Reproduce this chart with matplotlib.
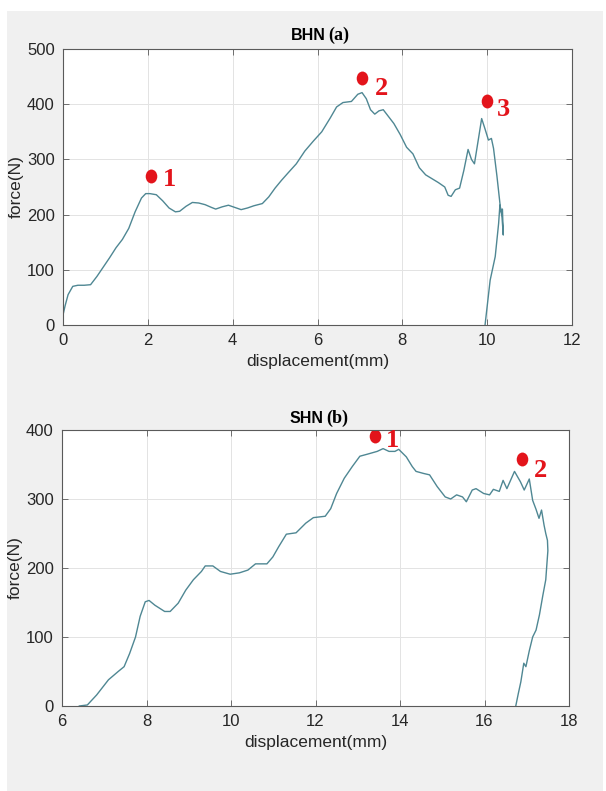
import numpy as np
import matplotlib
matplotlib.use("Agg")
import matplotlib.pyplot as plt
from matplotlib.path import Path
from matplotlib.patches import Rectangle

# --- Daten ---
# (a) BHN
disp_a = [0, 0.05, 0.12, 0.23, 0.35, 0.5, 0.65, 0.8, 0.95, 1.1,
          1.25, 1.4, 1.55, 1.7, 1.85, 1.95, 2.05, 2.2, 2.35, 2.5,
          2.65, 2.75, 2.9, 3.05, 3.2, 3.35, 3.5, 3.6, 3.75, 3.9,
          4.05, 4.2, 4.35, 4.5, 4.7, 4.85, 5.0, 5.15, 5.3, 5.5,
          5.7, 5.9, 6.1, 6.3, 6.45, 6.6, 6.8, 6.95, 7.05, 7.15,
          7.25, 7.35, 7.45, 7.55, 7.65, 7.8, 7.95, 8.1, 8.25, 8.4,
          8.55, 8.7, 8.85, 9.0, 9.08, 9.15, 9.25, 9.35, 9.45, 9.55,
          9.63, 9.7, 9.8, 9.87, 9.95, 10.03, 10.1, 10.15, 10.23, 10.31,
          10.35, 10.38, 10.36, 10.33, 10.3, 10.27, 10.19, 10.07, 9.95]
force_a = [18, 35, 55, 70, 72, 72, 73, 88, 105, 122,
           140, 155, 175, 205, 230, 238, 238, 236, 225, 212,
           205, 206, 215, 222, 221, 218, 213, 210, 214, 217,
           213, 209, 212, 216, 220, 232, 248, 262, 275, 292,
           315, 333, 350, 375, 395, 403, 405, 418, 421, 410,
           390, 382, 388, 390, 380, 365, 345, 322, 310, 285,
           272, 265, 258, 250, 235, 233, 245, 248, 280, 318,
           300, 292, 340, 374, 355, 335, 338, 320, 270, 214,
           195, 163, 210, 205, 217, 184, 124, 81, 0]
mark_x_a = [2.08, 7.05, 10.0]
mark_y_a = [270, 447, 406]
mark_lbl_a = ["1", "2", "3"]
lbl_x_a = [2.5, 7.5, 10.38]
lbl_y_a = [263, 429, 390]

# (b) SHN
disp_b = [6.41, 6.6, 6.82, 7.1, 7.33, 7.47, 7.6, 7.74, 7.85, 7.97,
          8.06, 8.2, 8.43, 8.56, 8.75, 8.93, 9.11, 9.3, 9.39, 9.57,
          9.75, 9.98, 10.2, 10.4, 10.58, 10.85, 10.99, 11.13, 11.31, 11.54,
          11.77, 11.95, 12.23, 12.36, 12.5, 12.68, 12.87, 13.05, 13.23, 13.46,
          13.6, 13.74, 13.88, 13.97, 14.15, 14.29, 14.38, 14.56, 14.7, 14.88,
          15.07, 15.2, 15.34, 15.48, 15.57, 15.71, 15.8, 15.98, 16.12, 16.21,
          16.35, 16.44, 16.53, 16.71, 16.85, 16.94, 17.06, 17.14, 17.22, 17.29,
          17.35, 17.41, 17.45, 17.49, 17.5, 17.47, 17.45, 17.38, 17.3, 17.22,
          17.14, 17.06, 16.98, 16.93, 16.86, 16.8, 16.74]
force_b = [0, 1.5, 16, 38, 50, 57, 76, 100, 130, 151,
           153, 146, 137, 137, 149, 168, 183, 195, 203, 203,
           195, 191, 193, 197, 206, 206, 216, 231, 249, 251,
           265, 273, 275, 286, 308, 330, 347, 362, 365, 369,
           373, 369, 369, 372, 361, 347, 340, 337, 335, 318,
           303, 300, 306, 303, 296, 313, 315, 308, 306, 314,
           311, 327, 315, 340, 325, 313, 329, 298, 285, 272,
           284, 262, 250, 240, 225, 200, 183, 160, 132, 110,
           100, 80, 57, 62, 35, 18, 0]
mark_x_b = [13.42, 16.88]
mark_y_b = [391, 358]
mark_lbl_b = ["1", "2"]
lbl_x_b = [13.83, 17.33]
lbl_y_b = [385, 342]

line_col = "#4f8793"
red = "#e3141b"
gray_bg = "#f0f0f0"
axis_col = "#262626"

# leicht gestreckter Kreis als Marker
circ = Path.unit_circle()
ell = Path(circ.vertices * np.array([1.0, 1.2]), circ.codes)

fig = plt.figure(figsize=(6.06, 7.91), dpi=100)
fig.patch.set_facecolor("white")
fig.patches.append(Rectangle((7 / 606, 0), 596 / 606, 780 / 791,
                             transform=fig.transFigure, facecolor=gray_bg,
                             edgecolor="none", zorder=-10))


def panel(rect, xs, ys, mx, my, ml, lx, ly, xlim, ylim, xticks, yticks,
          name, tag, title_y):
    ax = fig.add_axes(rect)
    ax.plot(xs, ys, color=line_col, lw=1.0)
    ax.plot(mx, my, linestyle="none", marker=ell, markersize=10,
            color=red, markeredgewidth=0)
    for x, y, t in zip(lx, ly, ml):
        ax.text(x, y, t, color=red, fontsize=19, fontweight="bold",
                family="Liberation Serif", ha="center", va="center")
    ax.set_xlim(*xlim)
    ax.set_ylim(*ylim)
    ax.set_xticks(xticks)
    ax.set_yticks(yticks)
    ax.grid(True, color="#e3e3e3", lw=0.7)
    ax.set_axisbelow(True)
    for s in ax.spines.values():
        s.set_color("#5a5a5a")
        s.set_linewidth(0.8)
    ax.tick_params(direction="in", length=4, width=0.6, top=True,
                   right=True, colors="#5a5a5a", labelcolor=axis_col,
                   labelsize=12, pad=6)
    for lab in ax.get_xticklabels() + ax.get_yticklabels():
        lab.set_family("Liberation Sans")
    ax.set_xlabel("displacement(mm)", fontsize=12.5, color=axis_col,
                  family="Liberation Sans", labelpad=4)
    ax.set_ylabel("force(N)", fontsize=12.5, color=axis_col,
                  family="Liberation Sans", labelpad=2)
    ax.text(0.516, title_y, name, transform=ax.transAxes, ha="right",
            va="baseline", fontsize=11.5, fontweight="bold",
            family="Liberation Sans", color="black")
    ax.text(0.522, title_y, tag, transform=ax.transAxes, ha="left",
            va="baseline", fontsize=13, fontweight="bold",
            family="Liberation Serif", color="black")
    return ax


panel([63 / 606, 1 - 325 / 791, 509 / 606, 276 / 791],
      disp_a, force_a, mark_x_a, mark_y_a, mark_lbl_a, lbl_x_a, lbl_y_a,
      (0, 12), (0, 500), range(0, 13, 2), range(0, 501, 100),
      "BHN", "(a)", 1.033)

panel([62 / 606, 1 - 706 / 791, 507 / 606, 276 / 791],
      disp_b, force_b, mark_x_b, mark_y_b, mark_lbl_b, lbl_x_b, lbl_y_b,
      (6, 18), (0, 400), range(6, 19, 2), range(0, 401, 100),
      "SHN", "(b)", 1.025)

fig.savefig("out.png", dpi=100, facecolor=fig.get_facecolor())
